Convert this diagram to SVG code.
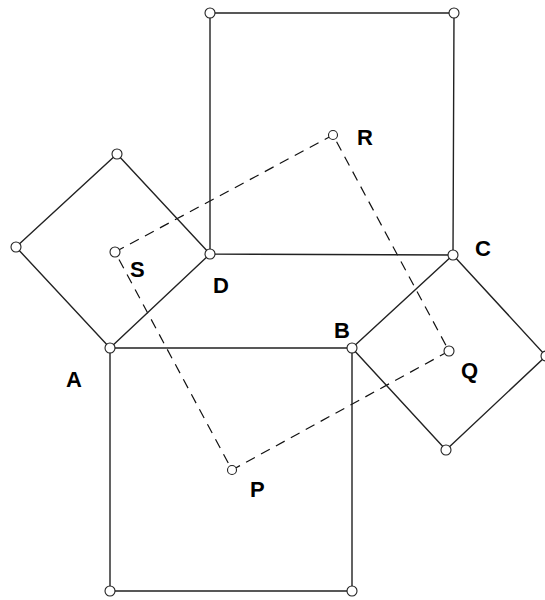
<svg xmlns="http://www.w3.org/2000/svg" width="545" height="600" viewBox="0 0 545 600">
<style>
.sq{fill:none;stroke:#222;stroke-width:1.4}
.dash{fill:none;stroke:#111;stroke-width:1.2;stroke-dasharray:10 7}
.pt{fill:#fff;stroke:#222;stroke-width:1.1}
.lbl{font-family:"Liberation Sans",Arial,sans-serif;font-weight:bold;font-size:22px;fill:#000}
</style>
<rect width="545" height="600" fill="#fff"/>
<g id="connectors">
<polygon class="dash" points="115,252 333,135 449,351 232,470"/>
</g>
<g id="square-top"><polygon class="sq" points="210,13 454,13 453,255 210,254"/></g>
<g id="square-bottom"><polygon class="sq" points="110,348 352,348 352,591 110,591"/></g>
<g id="square-left"><polygon class="sq" points="110,348 210,254 117,154 16,247"/></g>
<g id="square-right"><polygon class="sq" points="352,348 453,255 546,356 446,450"/></g>
<g id="points">
<circle class="pt" cx="210" cy="13" r="5"/>
<circle class="pt" cx="454" cy="13" r="5"/>
<circle class="pt" cx="117" cy="154" r="5"/>
<circle class="pt" cx="16" cy="247" r="5"/>
<circle class="pt" cx="546" cy="356" r="5"/>
<circle class="pt" cx="446" cy="450" r="5"/>
<circle class="pt" cx="110" cy="591" r="5"/>
<circle class="pt" cx="352" cy="591" r="5"/>
</g>
<g id="A"><circle class="pt" cx="110" cy="348" r="5"/><text class="lbl" x="66" y="387">A</text></g>
<g id="B"><circle class="pt" cx="352" cy="348" r="5"/><text class="lbl" x="334" y="338">B</text></g>
<g id="C"><circle class="pt" cx="453" cy="255" r="5"/><text class="lbl" x="475" y="256">C</text></g>
<g id="D"><circle class="pt" cx="210" cy="254" r="5"/><text class="lbl" x="213" y="293">D</text></g>
<g id="S"><circle class="pt" cx="115" cy="252" r="5"/><text class="lbl" x="130" y="277">S</text></g>
<g id="R"><circle class="pt" cx="333" cy="135" r="4.5"/><text class="lbl" x="357" y="145">R</text></g>
<g id="Q"><circle class="pt" cx="449" cy="351" r="5"/><text class="lbl" x="461" y="378">Q</text></g>
<g id="P"><circle class="pt" cx="232" cy="470" r="4.5"/><text class="lbl" x="250" y="497">P</text></g>
</svg>
